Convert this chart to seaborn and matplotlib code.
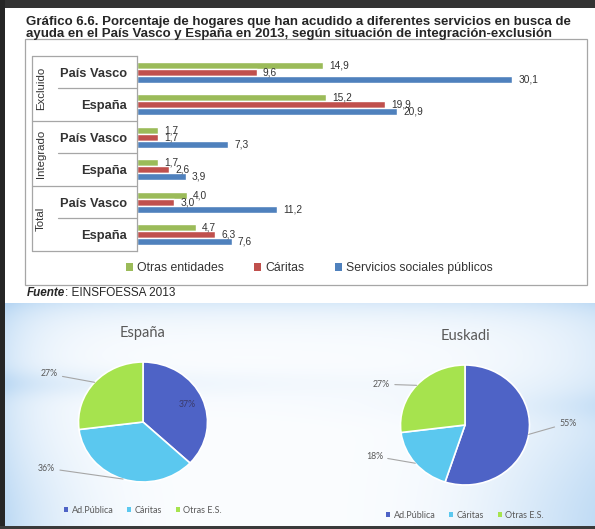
import numpy as np
import pandas as pd
import matplotlib
matplotlib.use("Agg")
import matplotlib.pyplot as plt
import matplotlib.transforms as mtransforms
from matplotlib.patches import Rectangle, Patch
import seaborn as sns

# ---------------- data ----------------
groups = ["Excluido", "Integrado", "Total"]
territories = ["País Vasco", "España"]
series = ["Otras entidades", "Cáritas", "Servicios sociales públicos"]
otras_entidades = [14.9, 15.2, 1.7, 1.7, 4.0, 4.7]
caritas = [9.6, 19.9, 1.7, 2.6, 3.0, 6.3]
servicios_sociales = [30.1, 20.9, 7.3, 3.9, 11.2, 7.6]

pie_labels = ["Ad.Pública", "Cáritas", "Otras E.S."]
espana_pct = [37, 36, 27]
euskadi_pct = [55, 18, 27]

title_lines = ["Gráfico 6.6. Porcentaje de hogares que han acudido a diferentes servicios en busca de",
               "ayuda en el País Vasco y España en 2013, según situación de integración-exclusión"]
source_bold = "Fuente"
source_rest = ": EINSFOESSA 2013"

# ---------------- style ----------------
sns.set_theme(style="white")
plt.rcParams["font.family"] = ["Liberation Sans", "DejaVu Sans"]
bar_colors = ["#9BBB59", "#C0504D", "#4F81BD"]
pie_colors = ["#4E63C6", "#5BC8EF", "#A6E34E"]
txt = "#262626"
pie_txt = "#595959"

W, H = 595, 529
fig = plt.figure(figsize=(W / 100, H / 100), dpi=100)
fig.patch.set_facecolor("white")

# background layer in pixel coordinates
bg = fig.add_axes([0, 0, 1, 1])
bg.set_xlim(0, W)
bg.set_ylim(H, 0)
bg.axis("off")

# gradient panel behind the pies
px0, px1, py0, py1 = 5, W, 303, H
xx, yy = np.meshgrid(np.arange(px0, px1), np.arange(py0, py1))
w = (0.45 * np.exp(-(yy - py0) / 16.0)
     + 0.55 * np.exp(-(xx - px0) / 40.0)
     + 0.35 * np.exp(-(px1 - xx) / 70.0)
     + 0.30 * np.exp(-((yy - 383) / 14.0) ** 2) * np.exp(-(xx - px0) / 260.0)
     + 0.22 * np.exp(-((yy - 405) / 16.0) ** 2) * np.exp(-(px1 - xx) / 150.0)
     + 0.45 * np.exp(-(((px1 - xx) / 120.0) ** 2 + ((py1 - yy) / 110.0) ** 2))
     + 0.30 * np.exp(-(((xx - px0) / 90.0) ** 2 + ((py1 - yy) / 80.0) ** 2)))
w = np.clip(w, 0, 1)[..., None]
white = np.array([0.985, 0.992, 1.0])
blue = np.array([0.70, 0.83, 0.95])
img = white * (1 - w) + blue * w
bg.imshow(img, extent=[px0, px1, py1, py0], aspect="auto", interpolation="bilinear")

# frame strips
bg.add_patch(Rectangle((0, 0), W, 8, color="#333333", lw=0))
bg.add_patch(Rectangle((0, 0), 5, H, color="#262626", lw=0))
bg.add_patch(Rectangle((0, H - 3), W, 3, color="#3a3a3a", lw=0))
# chart box
bg.add_patch(Rectangle((25, 39), 562, 246, fill=False, edgecolor="#A6A6A6", lw=0.9))

for i, line in enumerate(title_lines):
    bg.text(26, 25.5 + 11 * i, line, fontsize=9.5, fontweight="bold", color=txt,
            va="baseline", ha="left")
t_src = bg.text(27, 296, source_bold, fontsize=8.5, fontweight="bold",
                fontstyle="italic", color=txt, va="baseline", ha="left")
bg.annotate(source_rest, xy=(1, 0), xycoords=t_src, fontsize=8.5, color=txt,
            va="bottom", ha="left")

# ---------------- bar chart ----------------
rows = [f"{g}|{t}" for g in groups for t in territories]
df = pd.DataFrame({
    "fila": rows * 3,
    "serie": np.repeat(series, len(rows)),
    "valor": otras_entidades + caritas + servicios_sociales,
})

ax_left, ax_right, ax_top, ax_bot = 137, 575, 56, 251
ax = fig.add_axes([ax_left / W, 1 - ax_bot / H, (ax_right - ax_left) / W, (ax_bot - ax_top) / H])
sns.barplot(data=df, x="valor", y="fila", hue="serie", order=rows, hue_order=series,
            palette=bar_colors, orient="h", width=0.66, saturation=1,
            legend=False, ax=ax)
px_per_unit = 12.46
ax.set_xlim(0, (ax_right - ax_left) / px_per_unit)
ax.set_ylim(len(rows) - 0.5, -0.5)
ax.set_xlabel("")
ax.set_ylabel("")
ax.set_xticks([])
ax.set_yticks(range(len(rows)))
ax.set_yticklabels(territories * len(groups), fontsize=9.3, fontweight="bold", color="#333333")
ax.tick_params(axis="y", length=0, pad=7)
for s in ["top", "right", "bottom"]:
    ax.spines[s].set_visible(False)
ax.spines["left"].set_color("#A6A6A6")
ax.spines["left"].set_linewidth(0.9)

for cont, vals in zip(ax.containers, [otras_entidades, caritas, servicios_sociales]):
    ax.bar_label(cont, labels=[f"{v:.1f}".replace(".", ",") for v in vals],
                 padding=4.5, fontsize=7.3, color="#333333")

# category table lines
trans = mtransforms.blended_transform_factory(ax.transAxes, ax.transData)
fx = lambda p: (p - ax_left) / (ax_right - ax_left)
lc = dict(color="#A6A6A6", lw=0.9, transform=trans, clip_on=False)
ax.plot([fx(32), fx(32)], [-0.5, len(rows) - 0.5], **lc)
for gi in range(len(groups) + 1):
    yb = gi * len(territories) - 0.5
    ax.plot([fx(32), 0], [yb, yb], **lc)
for gi, g in enumerate(groups):
    ym = gi * len(territories) + 0.5
    ax.plot([fx(58), 0], [ym, ym], **lc)
    ax.text(fx(41), ym, g, rotation=90, ha="center", va="center", fontsize=8.2,
            color="#333333", transform=trans, clip_on=False)

handles = [Patch(facecolor=c, edgecolor="none") for c in bar_colors]
fig.legend(handles, series, loc="center", bbox_to_anchor=(309 / W, 1 - 268 / H),
           ncol=3, frameon=False, fontsize=8.8, handlelength=0.6, handleheight=0.6,
           handletextpad=0.3, columnspacing=2.5, labelcolor="#333333")

# ---------------- pies ----------------
def draw_pie(center, values, name, label_layout, legend_y):
    cx, cy = center
    rx, ry = 64.5, 60.0
    axp = fig.add_axes([(cx - 2 * rx) / W, 1 - (cy + 1.6 * ry) / H, 4 * rx / W, 3.2 * ry / H])
    wedges, _ = axp.pie(values, colors=pie_colors, startangle=90, counterclock=False,
                        radius=1, wedgeprops=dict(edgecolor="white", linewidth=1.2))
    axp.set_aspect("auto")
    axp.set_xlim(-2, 2)
    axp.set_ylim(-1.6, 1.6)
    axp.axis("off")
    for wdg, v, (tx, ty, ha) in zip(wedges, values, label_layout):
        ang = np.deg2rad((wdg.theta1 + wdg.theta2) / 2)
        ex, ey = np.cos(ang), np.sin(ang)
        lab = f"{v}%"
        if ha == "inside":
            axp.text(0.74 * ex, 0.74 * ey, lab, ha="center", va="center",
                     fontsize=6.3, color="#3b3b6b", family=["Lato", "DejaVu Sans"])
        else:
            axp.annotate(lab, xy=(ex, ey), xytext=(tx, ty), ha=ha, va="center",
                         fontsize=6.3, color=pie_txt, family=["Lato", "DejaVu Sans"],
                         annotation_clip=False,
                         arrowprops=dict(arrowstyle="-", color="#A6A6A6", lw=0.8,
                                         shrinkA=1, shrinkB=0))
    axp.text(0, 1.48, name, ha="center", va="center", fontsize=10.5, color=pie_txt,
             family=["Lato", "DejaVu Sans"])
    leg_handles = [Patch(facecolor=c, edgecolor="none") for c in pie_colors]
    axp.legend(leg_handles, pie_labels, loc="center", bbox_to_anchor=(0.5, legend_y),
               ncol=3, frameon=False, prop=dict(family=["Lato", "DejaVu Sans"], size=6.5),
               handlelength=0.45, handleheight=0.45, handletextpad=0.4,
               columnspacing=1.5, labelcolor=pie_txt)
    return axp

draw_pie((143, 422), espana_pct, "España",
         [(0, 0, "inside"), (-1.36, -0.77, "right"), (-1.32, 0.80, "right")], 0.04)
draw_pie((465, 425), euskadi_pct, "Euskadi",
         [(1.46, 0.03, "left"), (-1.27, -0.52, "right"), (-1.16, 0.68, "right")], 0.03)

fig.savefig("out.png", dpi=100)
